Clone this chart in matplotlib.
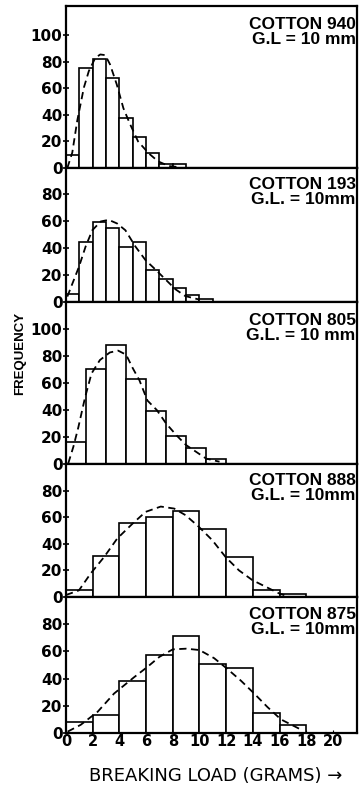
import matplotlib
matplotlib.use("Agg")
import matplotlib.pyplot as plt

# --- valores ---
names = ["COTTON 940", "COTTON 193", "COTTON 805", "COTTON 888", "COTTON 875"]
gauges = ["G.L = 10 mm", "G.L. = 10mm", "G.L. = 10 mm", "G.L. = 10mm", "G.L. = 10mm"]
bin_widths = [1.0, 1.0, 1.5, 2.0, 2.0]

freq_940 = [10, 75, 82, 68, 38, 23, 11, 3, 3]
freq_193 = [6, 44, 59, 55, 41, 44, 24, 17, 10, 5, 2]
freq_805 = [16, 70, 88, 63, 39, 21, 12, 4]
freq_888 = [5, 31, 56, 60, 65, 51, 30, 5, 2]
freq_875 = [8, 13, 38, 57, 71, 51, 48, 15, 6]

# curvas tracejadas (pontos lidos)
cx_940 = [0.1, 0.47, 0.84, 1.34, 1.71, 2.2, 2.57, 2.94, 3.3, 3.8, 4.3, 4.8, 5.4, 6.2, 6.9, 7.7, 8.6]
cy_940 = [0, 11.6, 35.5, 60.6, 73, 83, 85.5, 85, 78, 63, 45, 33, 20, 11, 5, 1.5, 0.5]
cx_193 = [0.1, 0.97, 1.47, 1.97, 2.6, 3.2, 3.83, 4.45, 5.2, 5.95, 6.7, 7.44, 8.2, 8.93, 9.9]
cy_193 = [4, 26, 41, 53, 59.5, 60.7, 58, 53, 41, 31, 24, 16.8, 9.4, 4.4, 2]
cx_805 = [0.17, 0.55, 0.92, 1.42, 1.91, 2.54, 3.28, 3.9, 4.5, 5.0, 5.5, 6.1, 6.8, 7.5, 8.3, 9.0, 9.75, 10.5, 11.5]
cy_805 = [0.5, 12.7, 27, 49, 67, 77, 82.6, 84, 81, 71, 62, 47, 40, 30, 21, 14, 9, 4, 1.7]
cx_888 = [0.0, 0.97, 1.85, 2.85, 3.84, 4.97, 5.96, 7.1, 8.1, 8.96, 9.96, 10.96, 11.96, 12.96, 13.96, 14.96, 15.96, 16.7]
cy_888 = [1.5, 5, 17.7, 30, 44, 55, 64, 68, 66.5, 61.5, 52.7, 42.7, 30, 20, 12.7, 7.7, 2.7, 0.2]
cx_875 = [0.12, 1.1, 2.37, 3.6, 5.1, 6.1, 7.0, 8.0, 9.0, 10.0, 11.1, 12.1, 13.1, 14.1, 15.1, 16.1, 17.1, 17.6]
cy_875 = [1, 6, 15.6, 29, 41, 48.6, 56, 61.5, 62, 61, 55, 47, 38.5, 29, 19, 10, 5, 2.5]

freqs = [freq_940, freq_193, freq_805, freq_888, freq_875]
curves_x = [cx_940, cx_193, cx_805, cx_888, cx_875]
curves_y = [cy_940, cy_193, cy_805, cy_888, cy_875]
y_tops = [122, 99, 120, 100, 100]
y_ticks = [[0, 20, 40, 60, 80, 100], [0, 20, 40, 60, 80], [0, 20, 40, 60, 80, 100],
           [0, 20, 40, 60, 80], [0, 20, 40, 60, 80]]
x_ticks = [0, 2, 4, 6, 8, 10, 12, 14, 16, 18, 20]

W, H = 359, 786
fig = plt.figure(figsize=(W / 100, H / 100), dpi=100)
fig.patch.set_facecolor("white")

# caixas dos painéis em pixels (topo, base) medidos de cima
boxes = [(6, 168), (168, 302), (302, 464), (464, 597), (597, 733)]
left_px, right_px = 66, 357

for i in range(5):
    top, bot = boxes[i]
    ax = fig.add_axes([left_px / W, 1 - bot / H, (right_px - left_px) / W, (bot - top) / H])
    w = bin_widths[i]
    lefts = [k * w for k in range(len(freqs[i]))]
    ax.bar(lefts, freqs[i], width=w, align="edge", facecolor="white",
           edgecolor="black", linewidth=1.2, zorder=2)
    ax.plot(curves_x[i], curves_y[i], color="black", lw=1.3,
            linestyle=(0, (4, 2.5)), zorder=3)
    ax.set_xlim(0, 21.8)
    ax.set_ylim(0, y_tops[i])
    ax.set_yticks(y_ticks[i])
    ax.set_yticklabels([str(t) for t in y_ticks[i]], fontsize=11, fontweight="bold",
                       family="DejaVu Sans")
    ax.tick_params(axis="y", direction="inout", length=4, width=1.2, pad=0.5)
    for s in ax.spines.values():
        s.set_linewidth(1.6)
    ax.text(0.995, 0.93, names[i] + "\n" + gauges[i], transform=ax.transAxes,
            ha="right", va="top", fontsize=12.5, fontweight="bold",
            family="Liberation Sans", linespacing=1.0)
    if i < 4:
        ax.set_xticks([])
    else:
        ax.set_xticks(x_ticks)
        ax.set_xticklabels([str(t) for t in x_ticks], fontsize=10.5, fontweight="bold",
                           family="DejaVu Sans")
        ax.tick_params(axis="x", direction="in", length=2, pad=1)

fig.text(20 / W, 1 - 353 / H, "FREQUENCY", rotation=90, ha="center", va="center",
         fontsize=9.5, fontweight="bold", family="Liberation Sans")
fig.text(216 / W, 1 - 776 / H, "BREAKING LOAD (GRAMS) \u2192", ha="center", va="center",
         fontsize=13, family="DejaVu Sans")

fig.savefig("out.png", dpi=100, facecolor="white")
